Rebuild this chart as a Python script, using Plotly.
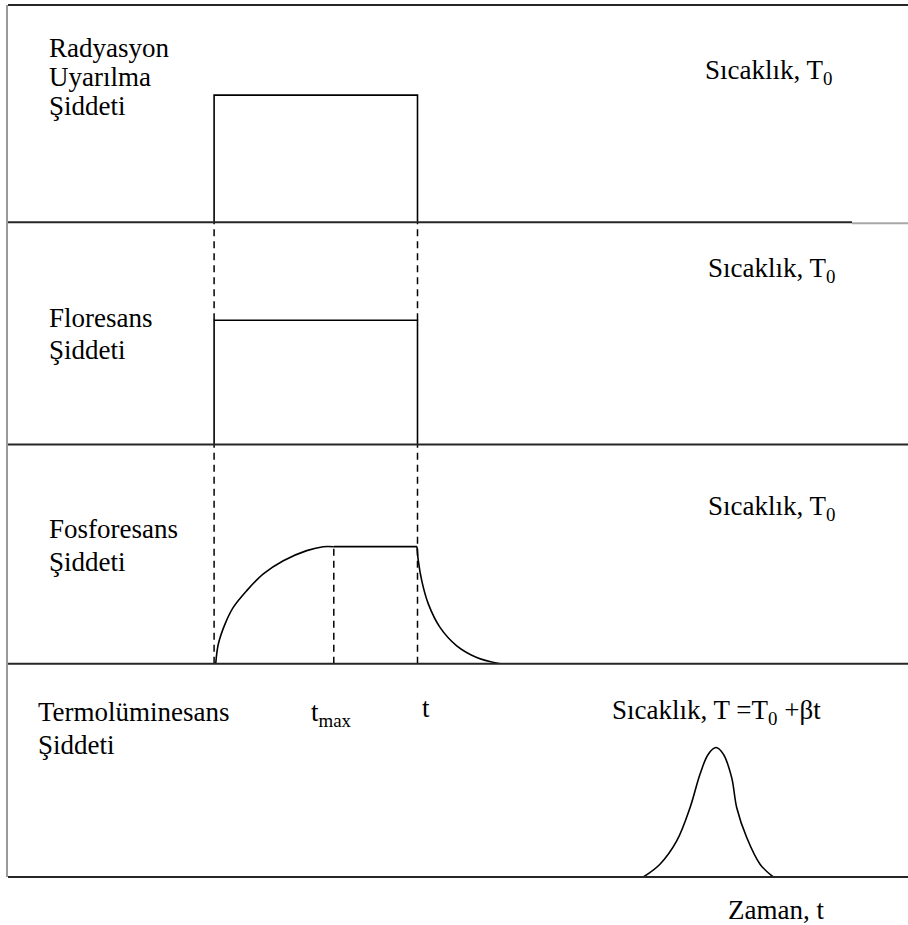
import plotly.graph_objects as go
from plotly.subplots import make_subplots

# ---- data (arbitrary time units 0..100, intensities 0..1 per panel) ----
t_on = 22.9
t_off = 45.5
t_max = 36.2

# Radiation excitation (square pulse)
rad_t = [t_on, t_on, t_off, t_off]
rad_i = [0, 0.585, 0.585, 0]

# Fluorescence (square pulse)
flu_t = [t_on, t_on, t_off, t_off]
flu_i = [0, 0.559, 0.559, 0]

# Phosphorescence: rise, plateau, decay
pho_rise_t = [23.08, 23.37, 24.11, 25.03, 26.52, 28.37, 30.59, 33.19, 35.03, 36.2]
pho_rise_i = [0.0, 0.090, 0.181, 0.257, 0.333, 0.410, 0.470, 0.516, 0.534, 0.534]
pho_plat_t = [36.2, 45.44]
pho_plat_i = [0.534, 0.534]
pho_decay_t = [45.44, 45.59, 45.97, 46.70, 48.0, 49.86, 52.08, 54.67]
pho_decay_i = [0.534, 0.470, 0.379, 0.273, 0.166, 0.082, 0.029, 0.0]

# Thermoluminescence glow peak
tl_t = [70.59, 72.44, 74.30, 75.78, 76.89, 77.81, 78.67, 79.48, 80.41, 80.97, 82.08, 83.56, 85.03]
tl_i = [0.0, 0.060, 0.169, 0.325, 0.482, 0.576, 0.607, 0.576, 0.466, 0.325, 0.185, 0.060, 0.0]

# ---- figure ----
W, H = 908, 925
ML, MR, MT, MB = 8, 0, 5, 48
PW, PH = W - ML - MR, H - MT - MB
ROW_H = [217, 222, 219, 213]

fig = make_subplots(rows=4, cols=1, shared_xaxes=True, vertical_spacing=0,
                    row_heights=ROW_H)

solid = dict(color="black", width=1.6)
dash = dict(color="black", width=1.5, dash="7px,5px")

def add(t, i, row, line, shape="linear"):
    fig.add_trace(go.Scatter(x=t, y=i, mode="lines", line=dict(**line, shape=shape),
                             showlegend=False, hoverinfo="skip"), row=row, col=1)

# panel 1
add(rad_t, rad_i, 1, solid)
# panel 2
add([t_on, t_on], [flu_i[1], 1], 2, dash)
add([t_off, t_off], [flu_i[2], 1], 2, dash)
add(flu_t, flu_i, 2, solid)
# panel 3
add([t_on, t_on], [0, 1], 3, dash)
add([t_off, t_off], [0, 1], 3, dash)
add([t_max, t_max], [0, pho_plat_i[0]], 3, dash)
add(pho_rise_t, pho_rise_i, 3, solid, "spline")
add(pho_plat_t, pho_plat_i, 3, solid)
add(pho_decay_t, pho_decay_i, 3, solid, "spline")
# panel 4
add(tl_t, tl_i, 4, solid, "spline")

for r in range(1, 5):
    fig.update_xaxes(range=[0, 100], showline=False, showticklabels=False, ticks="",
                     showgrid=False, zeroline=False, row=r, col=1)
    fig.update_yaxes(range=[0, 1], showline=True, linecolor="#9a9a9a", linewidth=2,
                     showticklabels=False, ticks="", showgrid=False, zeroline=False,
                     row=r, col=1)

# frame / separator lines
total = sum(ROW_H)
levels = [1.0]
acc = 0
for h in ROW_H:
    acc += h
    levels.append(1 - acc / total)
dark = dict(color="#262626", width=2)
for k, yv in enumerate(levels):
    if k == 1:
        xend = (852 - ML) / PW
        fig.add_shape(type="line", xref="paper", yref="paper", x0=0, x1=xend,
                      y0=yv, y1=yv, line=dark, layer="above")
        fig.add_shape(type="line", xref="paper", yref="paper", x0=xend, x1=1,
                      y0=yv - 1 / PH, y1=yv - 1 / PH,
                      line=dict(color="#a8a8a8", width=2), layer="above")
    else:
        fig.add_shape(type="line", xref="paper", yref="paper", x0=0, x1=1,
                      y0=yv, y1=yv, line=dark, layer="above")

FONT = dict(family="Liberation Serif, Times New Roman, serif", size=27, color="black")

def px(x):
    return (x - ML) / PW

def py(y):
    return (H - MB - y) / PH

def label(text, x, y, size=27):
    fig.add_annotation(text=text, x=px(x), y=py(y), xref="paper", yref="paper",
                       xanchor="left", yanchor="middle", showarrow=False,
                       font=dict(FONT, size=size))

label("Radyasyon", 47, 48)
label("Uyarılma", 47, 77)
label("Şiddeti", 47, 106)
label("Sıcaklık, T<sub>0</sub>", 703, 72)

label("Sıcaklık, T<sub>0</sub>", 706, 270)
label("Floresans", 47, 318)
label("Şiddeti", 47, 350)

label("Sıcaklık, T<sub>0</sub>", 706, 508)
label("Fosforesans", 47, 529)
label("Şiddeti", 47, 562)

label("Termolüminesans", 36, 712)
label("Şiddeti", 36, 745)
label("t<sub>max</sub>", 309, 714)
label("t", 420, 708)
label("Sıcaklık, T =T<sub>0</sub> +βt", 610, 712)
label("Zaman, t", 726, 910)

fig.update_layout(width=W, height=H, margin=dict(l=ML, r=MR, t=MT, b=MB),
                  paper_bgcolor="white", plot_bgcolor="white", showlegend=False)

fig.write_html("out.html", config={"displayModeBar": False},
               post_script="document.body.style.margin='0';"
                           "document.body.style.overflow='hidden';")
